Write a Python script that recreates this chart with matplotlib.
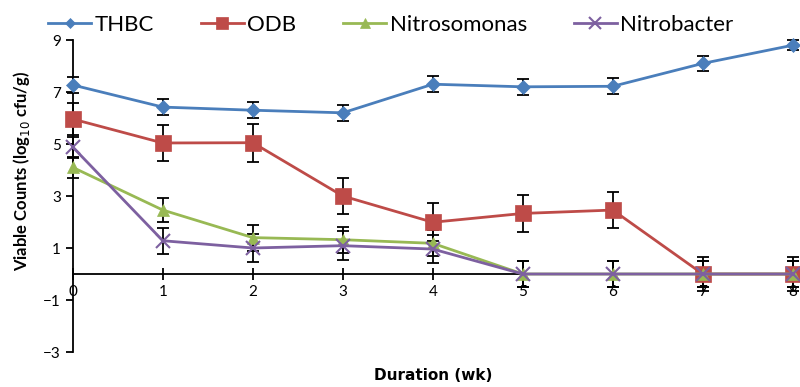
import matplotlib.pyplot as plt

weeks = [0, 1, 2, 3, 4, 5, 6, 7, 8]

thbc = [7.27, 6.42, 6.3, 6.2, 7.3, 7.2, 7.22, 8.1, 8.8]
thbc_err = [0.3, 0.3, 0.3, 0.3, 0.3, 0.3, 0.3, 0.3, 0.2]

odb = [5.96, 5.04, 5.05, 3.0, 1.99, 2.33, 2.46, 0, 0]
odb_err = [0.6, 0.7, 0.73, 0.7, 0.73, 0.72, 0.7, 0.65, 0.65]

nitroso = [4.1, 2.46, 1.4, 1.32, 1.18, 0, 0, 0, 0]
nitroso_err = [0.4, 0.45, 0.5, 0.5, 0.5, 0.5, 0.5, 0.5, 0.5]

nitrob = [4.88, 1.28, 1.0, 1.09, 0.96, 0, 0, 0, 0]
nitrob_err = [0.4, 0.5, 0.55, 0.55, 0.55, 0.5, 0.5, 0.5, 0.5]

plt.rcParams['font.family'] = ['Lato', 'DejaVu Sans']

fig = plt.figure(figsize=(8, 3.87), dpi=100)
ax = fig.add_axes([0.091, 0.0904, 0.9, 0.8062])

series = [
    ('THBC', thbc, thbc_err, '#4a7ebb', 'D', 7),
    ('ODB', odb, odb_err, '#be4b48', 's', 11),
    ('Nitrosomonas', nitroso, nitroso_err, '#98b954', '^', 9),
    ('Nitrobacter', nitrob, nitrob_err, '#7d60a0', 'x', 10),
]

for name, vals, err, col, mk, ms in series:
    ax.errorbar(weeks, vals, yerr=err, fmt='none', ecolor='black',
                elinewidth=1.3, capsize=4, capthick=1.3, zorder=2, clip_on=False)
    ax.plot(weeks, vals, color=col, marker=mk, markersize=ms, linewidth=2,
            markeredgewidth=1.5 if mk == 'x' else 0.5, label=name,
            zorder=3, clip_on=False)

ax.set_xlim(0, 8)
ax.set_ylim(-3, 9)
ax.set_yticks([-3, -1, 1, 3, 5, 7, 9])
ax.set_xticks(weeks)

ax.spines['top'].set_visible(False)
ax.spines['right'].set_visible(False)
ax.spines['bottom'].set_position(('data', 0))
ax.spines['left'].set_linewidth(1.3)
ax.spines['bottom'].set_linewidth(1.3)
ax.tick_params(axis='both', labelsize=11, width=1.3, length=5)
ax.tick_params(axis='x', direction='inout', length=9)

ax.set_xlabel('Duration (wk)', fontsize=11, fontweight='bold',
              family=['DejaVu Sans'])
ax.xaxis.set_label_coords(0.501, -0.05)
ax.set_ylabel('Viable Counts (log$_{10}$ cfu/g)', fontsize=12, fontweight='bold')
ax.yaxis.set_label_coords(-0.057, 0.58)

fig.legend(loc='upper left', bbox_to_anchor=(0.046, 0.99), ncol=4, frameon=False,
           borderpad=0, fontsize=16, handlelength=1.95, handletextpad=0.15,
           columnspacing=2.1, markerscale=0.8)

fig.savefig('out.png', dpi=100)
